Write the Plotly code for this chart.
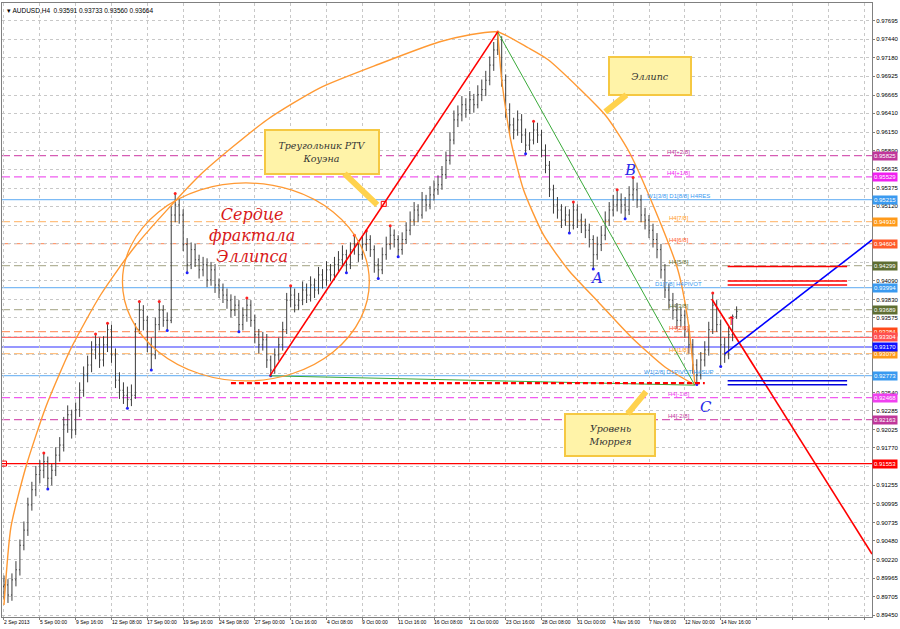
import plotly.graph_objects as go

# ---------------- price data (AUDUSD H4, one entry ~ 2 H4 bars) ----------------
first_open = 0.8985
closes = [0.8987,0.8973,0.8994,0.9008,0.9042,0.9063,0.9098,0.9119,0.9140,0.9146,
 0.9158,0.9135,0.9146,0.9167,0.9181,0.9209,0.9223,0.9202,0.9230,0.9257,
 0.9278,0.9292,0.9313,0.9320,0.9299,0.9320,0.9341,0.9306,0.9271,0.9257,
 0.9250,0.9244,0.9250,0.9341,0.9368,0.9354,0.9320,0.9306,0.9348,0.9368,
 0.9354,0.9354,0.9500,0.9514,0.9500,0.9459,0.9431,0.9452,0.9438,0.9424,
 0.9431,0.9410,0.9424,0.9403,0.9396,0.9389,0.9382,0.9368,0.9375,0.9348,
 0.9361,0.9375,0.9354,0.9334,0.9320,0.9327,0.9299,0.9285,0.9306,0.9320,
 0.9341,0.9382,0.9389,0.9375,0.9382,0.9396,0.9389,0.9403,0.9396,0.9417,
 0.9410,0.9424,0.9417,0.9431,0.9438,0.9445,0.9431,0.9452,0.9459,0.9445,
 0.9459,0.9466,0.9452,0.9431,0.9424,0.9445,0.9459,0.9472,0.9466,0.9452,
 0.9466,0.9479,0.9493,0.9507,0.9500,0.9521,0.9514,0.9528,0.9535,0.9542,
 0.9556,0.9576,0.9604,0.9632,0.9639,0.9653,0.9646,0.9660,0.9653,0.9667,
 0.9674,0.9687,0.9708,0.9729,0.9743,0.9687,0.9646,0.9625,0.9618,0.9632,
 0.9611,0.9597,0.9604,0.9618,0.9611,0.9590,0.9569,0.9535,0.9514,0.9507,
 0.9493,0.9500,0.9486,0.9507,0.9493,0.9486,0.9479,0.9466,0.9445,0.9459,
 0.9472,0.9493,0.9507,0.9514,0.9521,0.9514,0.9507,0.9528,0.9535,0.9521,
 0.9500,0.9493,0.9479,0.9466,0.9452,0.9424,0.9396,0.9382,0.9368,0.9354,
 0.9361,0.9341,0.9320,0.9292,0.9278,0.9299,0.9313,0.9341,0.9375,0.9348,
 0.9320,0.9306,0.9334,0.93591,0.93664]
highs = [0.9000,0.8995,0.9003,0.9020,0.9050,0.9075,0.9108,0.9130,0.9152,0.9160,
 0.9170,0.9165,0.9155,0.9178,0.9192,0.9220,0.9236,0.9230,0.9240,0.9268,
 0.9290,0.9305,0.9325,0.9335,0.9330,0.9332,0.9350,0.9348,0.9315,0.9282,
 0.9268,0.9262,0.9265,0.9350,0.9380,0.9375,0.9360,0.9330,0.9358,0.9380,
 0.9375,0.9365,0.9512,0.9530,0.9522,0.9508,0.9468,0.9462,0.9460,0.9445,
 0.9442,0.9440,0.9435,0.9432,0.9412,0.9405,0.9398,0.9390,0.9388,0.9382,
 0.9372,0.9385,0.9382,0.9362,0.9342,0.9338,0.9335,0.9305,0.9315,0.9330,
 0.9352,0.9392,0.9402,0.9398,0.9392,0.9408,0.9405,0.9415,0.9412,0.9428,
 0.9425,0.9436,0.9432,0.9442,0.9450,0.9458,0.9452,0.9462,0.9472,0.9465,
 0.9470,0.9478,0.9472,0.9458,0.9440,0.9455,0.9470,0.9485,0.9480,0.9472,
 0.9476,0.9490,0.9505,0.9518,0.9515,0.9532,0.9528,0.9540,0.9548,0.9555,
 0.9568,0.9588,0.9615,0.9645,0.9652,0.9665,0.9662,0.9672,0.9668,0.9680,
 0.9688,0.9700,0.9720,0.9740,0.9754,0.9748,0.9695,0.9655,0.9635,0.9645,
 0.9640,0.9620,0.9615,0.9630,0.9628,0.9618,0.9598,0.9575,0.9542,0.9525,
 0.9515,0.9512,0.9508,0.9518,0.9515,0.9502,0.9495,0.9488,0.9472,0.9470,
 0.9485,0.9505,0.9518,0.9528,0.9535,0.9530,0.9525,0.9540,0.9552,0.9545,
 0.9528,0.9510,0.9500,0.9488,0.9475,0.9460,0.9432,0.9405,0.9392,0.9378,
 0.9372,0.9368,0.9348,0.9328,0.9300,0.9310,0.9325,0.9352,0.9392,0.9382,
 0.9355,0.9330,0.9345,0.9362,0.93733]
lows = [0.8968,0.8962,0.8965,0.8985,0.9000,0.9035,0.9055,0.9090,0.9110,0.9128,
 0.9135,0.9120,0.9125,0.9138,0.9158,0.9172,0.9198,0.9190,0.9195,0.9220,
 0.9248,0.9268,0.9282,0.9300,0.9288,0.9290,0.9310,0.9295,0.9260,0.9245,
 0.9238,0.9232,0.9235,0.9245,0.9335,0.9340,0.9310,0.9285,0.9300,0.9340,
 0.9345,0.9340,0.9350,0.9490,0.9488,0.9450,0.9420,0.9425,0.9428,0.9412,
 0.9415,0.9400,0.9402,0.9392,0.9385,0.9378,0.9370,0.9358,0.9360,0.9338,
 0.9340,0.9352,0.9345,0.9322,0.9308,0.9312,0.9288,0.9277,0.9280,0.9298,
 0.9312,0.9335,0.9372,0.9365,0.9368,0.9375,0.9378,0.9380,0.9385,0.9390,
 0.9398,0.9402,0.9408,0.9410,0.9422,0.9430,0.9420,0.9425,0.9445,0.9435,
 0.9438,0.9450,0.9442,0.9420,0.9412,0.9418,0.9438,0.9452,0.9455,0.9442,
 0.9445,0.9460,0.9472,0.9485,0.9490,0.9495,0.9505,0.9508,0.9520,0.9528,
 0.9535,0.9550,0.9570,0.9598,0.9622,0.9630,0.9635,0.9640,0.9642,0.9648,
 0.9658,0.9665,0.9680,0.9700,0.9722,0.9678,0.9635,0.9612,0.9605,0.9610,
 0.9600,0.9585,0.9590,0.9598,0.9600,0.9580,0.9558,0.9525,0.9502,0.9495,
 0.9482,0.9485,0.9475,0.9480,0.9482,0.9475,0.9468,0.9455,0.9425,0.9438,
 0.9450,0.9465,0.9485,0.9498,0.9505,0.9502,0.9495,0.9500,0.9520,0.9510,
 0.9490,0.9480,0.9468,0.9455,0.9440,0.9412,0.9385,0.9370,0.9355,0.9342,
 0.9345,0.9330,0.9308,0.9280,0.9265,0.9272,0.9290,0.9305,0.9335,0.9338,
 0.9290,0.9295,0.9300,0.9325,0.93560]
bar_index = list(range(len(closes)))
opens = [first_open] + closes[:-1]

# ---------------- axes ----------------
x_tick_pos = [0, 9, 18, 27, 36, 45, 54, 63, 72, 81, 90, 99, 108, 117, 126, 135, 144, 153, 162, 171, 180]
x_tick_labels = ["2 Sep 2013", "5 Sep 00:00", "9 Sep 16:00", "12 Sep 08:00", "17 Sep 00:00",
                 "19 Sep 16:00", "24 Sep 08:00", "27 Sep 00:00", "1 Oct 16:00", "4 Oct 08:00",
                 "9 Oct 00:00", "11 Oct 16:00", "16 Oct 08:00", "21 Oct 00:00", "23 Oct 16:00",
                 "28 Oct 08:00", "31 Oct 00:00", "4 Nov 16:00", "7 Nov 08:00", "12 Nov 00:00",
                 "14 Nov 16:00"]
x_grid_pos = x_tick_pos + [189, 198, 207, 216]
y_ticks = [0.97955, 0.97695, 0.97440, 0.97180, 0.96925, 0.96665, 0.96410, 0.96150, 0.95890,
           0.95635, 0.95375, 0.95120, 0.94860, 0.94605, 0.94345, 0.94090, 0.93830, 0.93575,
           0.93315, 0.93060, 0.92800, 0.92540, 0.92285, 0.92025, 0.91770, 0.91510, 0.91255,
           0.90995, 0.90735, 0.90480, 0.90220, 0.89965, 0.89705, 0.89450]
x_range = [-0.5, 218]
y_range = [0.89425, 0.97941]

# ---------------- Murrey Math levels ----------------
mm_levels = [0.95825, 0.95529, 0.95215, 0.94910, 0.94604, 0.94299, 0.93994, 0.93689,
             0.93384, 0.93079, 0.92773, 0.92468, 0.92163]
mm_names = ["H4[+2/8]", "H4[+1/8]", "W1[3/8] D1[8/8] H4RES", "H4[7/8]", "H4[6/8]", "H4[5/8]",
            "D1[7/8] H4PIVOT", "H4[3/8]", "H4[2/8]", "H4[1/8]", "W1[2/8] D1PIVOT H4SUP",
            "H4[-1/8]", "H4[-2/8]"]
mm_line_colors = ["#d65cb4", "#f05cf0", "#7dbbf5", "#ffc080", "#ff9a70", "#b4b49a",
                  "#7dbbf5", "#b4b49a", "#ff9a70", "#ffc080", "#7dbbf5", "#f05cf0", "#d65cb4"]
mm_box_colors = ["#c0369a", "#f020f0", "#3a9af0", "#ff9a1a", "#ff5a2a", "#5e6e32",
                 "#3a9af0", "#5e6e32", "#ff4a1a", "#ff9a1a", "#3a9af0", "#f040f0", "#c0369a"]
mm_dash = ["dash", "dash", "solid", "dash", "dash", "dash", "solid", "dash", "dash", "dash",
           "solid", "dash", "dash"]
mm_label_bar = 169.5

other_levels = [0.93304, 0.93170, 0.91553]
other_colors = ["#ff6a6a", "#3030ff", "#ff0000"]
other_box_colors = ["#ff5050", "#1010ff", "#ff0000"]

short_red_levels = [0.94285, 0.94085, 0.94030]
short_blue_levels = [0.92700, 0.92645]
short_span = [181.75, 211.75]

# ---------------- drawn objects (bar, price) ----------------
ptv_red_x = [66.75, 124.0]
ptv_red_y = [0.9277, 0.9754]
ptv_green_x = [124.0, 173.5, 66.75]
ptv_green_y = [0.9754, 0.9264, 0.9277]
murrey_dash_x = [57, 176]
murrey_dash_y = [0.9267, 0.9267]
down_line_x = [177.75, 218]
down_line_y = [0.93836, 0.90299]
up_line_x = [181.0, 218]
up_line_y = [0.93073, 0.94654]

arc_big_x = [0, 1.75, 5.5, 10.5, 16.75, 24.25, 33, 49.25, 66, 79.25, 94.25, 109.25, 116.75, 124,
             131.75, 136.75, 151, 156.75, 163, 169.25, 171.75, 173.5]
arc_big_y = [0.89592, 0.90674, 0.91506, 0.92338, 0.93142, 0.93891, 0.94571, 0.95556, 0.96319,
             0.96762, 0.97095, 0.97400, 0.97498, 0.97539, 0.97317, 0.97151, 0.96388, 0.95902,
             0.95140, 0.94238, 0.93545, 0.92671]
arc_inner_x = [124, 125, 127.25, 130.5, 135.5, 141.75, 149.25, 157.5, 166, 173.5]
arc_inner_y = [0.97539, 0.96873, 0.96041, 0.95348, 0.94724, 0.94238, 0.93794, 0.93309, 0.92893, 0.92643]
heart_x = [29.75, 91.75]
heart_y = [0.92699, 0.95445]

fig = go.Figure()

# horizontal levels
for lv, c, d in zip(mm_levels, mm_line_colors, mm_dash):
    fig.add_shape(type="line", xref="paper", x0=0, x1=1, yref="y", y0=lv, y1=lv, layer="below",
                  line=dict(color=c, width=1.2, dash="8px,4px" if d == "dash" else "solid"))
for lv, c in zip(other_levels, other_colors):
    fig.add_shape(type="line", xref="paper", x0=0, x1=1, yref="y", y0=lv, y1=lv, layer="below",
                  line=dict(color=c, width=1.2))
for lv in short_red_levels:
    fig.add_shape(type="line", xref="x", x0=short_span[0], x1=short_span[1], yref="y", y0=lv, y1=lv,
                  line=dict(color="#ff0000", width=1.5))
for lv in short_blue_levels:
    fig.add_shape(type="line", xref="x", x0=short_span[0], x1=short_span[1], yref="y", y0=lv, y1=lv,
                  line=dict(color="#0000dd", width=1.5))

# heart ellipse
fig.add_shape(type="circle", xref="x", yref="y", x0=heart_x[0], x1=heart_x[1],
              y0=heart_y[0], y1=heart_y[1], line=dict(color="#ff9933", width=1.3))

# bars
fig.add_trace(go.Ohlc(x=bar_index, open=opens, high=highs, low=lows, close=closes,
                      increasing=dict(line=dict(color="#3c3c3c", width=1)),
                      decreasing=dict(line=dict(color="#3c3c3c", width=1)),
                      tickwidth=0.25, showlegend=False, hoverinfo="skip"))

# fractal dots
fr_hx, fr_hy, fr_lx, fr_ly = [], [], [], []
for i in range(2, len(closes) - 2):
    if highs[i] == max(highs[i - 2:i + 3]):
        fr_hx.append(i); fr_hy.append(highs[i])
    if lows[i] == min(lows[i - 2:i + 3]):
        fr_lx.append(i); fr_ly.append(lows[i])
fig.add_trace(go.Scatter(x=fr_hx, y=fr_hy, mode="markers", marker=dict(color="#ff2020", size=3),
                         showlegend=False, hoverinfo="skip"))
fig.add_trace(go.Scatter(x=fr_lx, y=fr_ly, mode="markers", marker=dict(color="#2020ff", size=3),
                         showlegend=False, hoverinfo="skip"))

# arcs
fig.add_trace(go.Scatter(x=arc_big_x, y=arc_big_y, mode="lines",
                         line=dict(color="#ff9933", width=1.4, shape="spline", smoothing=0.6),
                         showlegend=False, hoverinfo="skip"))
fig.add_trace(go.Scatter(x=arc_inner_x, y=arc_inner_y, mode="lines",
                         line=dict(color="#ff9933", width=1.4, shape="spline", smoothing=0.6),
                         showlegend=False, hoverinfo="skip"))

# triangle and trend lines
fig.add_trace(go.Scatter(x=ptv_green_x, y=ptv_green_y, mode="lines", line=dict(color="#3aaa3a", width=1),
                         showlegend=False, hoverinfo="skip"))
fig.add_trace(go.Scatter(x=murrey_dash_x, y=murrey_dash_y, mode="lines",
                         line=dict(color="#ff0000", width=2.2, dash="5px,3px"), showlegend=False, hoverinfo="skip"))
fig.add_trace(go.Scatter(x=ptv_red_x, y=ptv_red_y, mode="lines", line=dict(color="#ff0000", width=1.6),
                         showlegend=False, hoverinfo="skip"))
fig.add_trace(go.Scatter(x=[sum(ptv_red_x) / 2], y=[sum(ptv_red_y) / 2], mode="markers",
                         marker=dict(symbol="square-open", color="#ff0000", size=5), showlegend=False, hoverinfo="skip"))
fig.add_trace(go.Scatter(x=down_line_x, y=down_line_y, mode="lines", line=dict(color="#ff0000", width=1.6),
                         showlegend=False, hoverinfo="skip"))
fig.add_trace(go.Scatter(x=up_line_x, y=up_line_y, mode="lines", line=dict(color="#0000ff", width=1.6),
                         showlegend=False, hoverinfo="skip"))
fig.add_trace(go.Scatter(x=[0], y=[other_levels[2]], mode="markers",
                         marker=dict(symbol="square-open", color="#ff0000", size=5), showlegend=False, hoverinfo="skip"))

box_levels = mm_levels + other_levels
box_colors = mm_box_colors + other_box_colors
px_per_price = 614 / (y_range[1] - y_range[0])
y_ticktext = []
for v in y_ticks:
    hidden = any(abs(v - b) * px_per_price < 4.5 for b in box_levels)
    y_ticktext.append("" if hidden else f"{v:.5f}")

ann = []
# x labels (left aligned like MT4)
for xp, lab in zip(x_tick_pos, x_tick_labels):
    ann.append(dict(x=xp, xref="x", y=0, yref="paper", yanchor="top", xanchor="left", text=lab,
                    showarrow=False, yshift=0, xshift=-2, font=dict(size=5, color="#000", family="Liberation Sans")))
# level labels on chart
for lv, nm, c in zip(mm_levels, mm_names, mm_box_colors):
    ann.append(dict(x=mm_label_bar, y=lv, xref="x", yref="y", text=nm, showarrow=False,
                    yanchor="bottom", xanchor="center", yshift=-1,
                    font=dict(size=6, color=c, family="Liberation Sans")))
# price boxes at right axis
for lv, c in zip(box_levels, box_colors):
    ann.append(dict(x=1, xref="paper", y=lv, yref="y", xanchor="left", yanchor="middle", text=f"{lv:.5f}",
                    showarrow=False, bgcolor=c, borderpad=1, xshift=0,
                    font=dict(size=6, color="#ffffff", family="Liberation Sans")))
# title
ann.append(dict(x=0.003, y=0.997, xref="paper", yref="paper", xanchor="left", yanchor="top",
                text="▾ AUDUSD,H4  0.93591 0.93733 0.93560 0.93664", showarrow=False,
                font=dict(size=6.5, color="#000", family="Liberation Sans")))
# heart text
heart_text_pos = (62.25, 0.94710)
ann.append(dict(x=heart_text_pos[0], y=heart_text_pos[1], xref="x", yref="y",
                text="Сердце<br>фрактала<br>Эллипса", showarrow=False,
                font=dict(size=16, color="#d81818", family="DejaVu Serif", style="italic")))
# letters
letters = ["A", "B", "C"]
letters_x = [148.75, 157.25, 176.25]
letters_y = [0.94127, 0.95625, 0.92338]
for t, lx, ly in zip(letters, letters_x, letters_y):
    ann.append(dict(x=lx, y=ly, xref="x", yref="y", text=t, showarrow=False,
                    font=dict(size=15, color="#2828e8", family="DejaVu Serif", style="italic")))
# red arrow mark
ann.append(dict(x=182.5, y=0.9353, xref="x", yref="y", text="↑", showarrow=False,
                font=dict(size=12, color="#ff0000", family="DejaVu Sans")))
# callouts
callout_text = ["Треугольник PTV<br>Коуэна", "Эллипс", "Уровень<br>Мюррея"]
callout_tip_x = [93.75, 151.0, 161.25]
callout_tip_y = [0.9514, 0.9643, 0.9255]
callout_box_x = [79.75, 162.25, 152.25]
callout_box_y = [0.9588, 0.9693, 0.9195]
callout_w = [104, 72, 80]
callout_h = [34, 28, 32]
for t, tx, ty, bx, by, w, h in zip(callout_text, callout_tip_x, callout_tip_y, callout_box_x,
                                   callout_box_y, callout_w, callout_h):
    ann.append(dict(x=tx, y=ty, xref="x", yref="y", ax=bx, ay=by, axref="x", ayref="y",
                    text=t, showarrow=True, arrowhead=0, arrowwidth=6, arrowcolor="#ffd24d",
                    standoff=0, startstandoff=0, bgcolor="#fff3a8", bordercolor="#f5c842",
                    borderwidth=2, borderpad=4, width=w, height=h,
                    font=dict(size=9.5, color="#333", family="DejaVu Serif", style="italic")))

fig.update_layout(
    width=900, height=629, margin=dict(l=1, r=25, t=3, b=12),
    paper_bgcolor="#ffffff", plot_bgcolor="#ffffff", showlegend=False,
    annotations=ann,
    xaxis=dict(range=x_range, tickvals=x_grid_pos, showticklabels=False, ticks="outside", ticklen=2,
               tickcolor="#808080", showgrid=True, gridcolor="#c8c8c8", griddash="dot", gridwidth=1,
               showline=True, linecolor="#808080", linewidth=1, mirror=True, zeroline=False,
               rangeslider=dict(visible=False)),
    yaxis=dict(range=y_range, side="right", tickvals=y_ticks, ticktext=y_ticktext,
               ticks="outside", ticklen=2, tickcolor="#808080",
               tickfont=dict(size=6, color="#000", family="Liberation Sans"),
               showgrid=True, gridcolor="#c8c8c8", griddash="dot", gridwidth=1,
               showline=True, linecolor="#808080", linewidth=1, mirror=True, zeroline=False),
)

fig.write_html("out.html", config={"displayModeBar": False},
               post_script="document.body.style.margin='0';document.body.style.overflow='hidden';")
